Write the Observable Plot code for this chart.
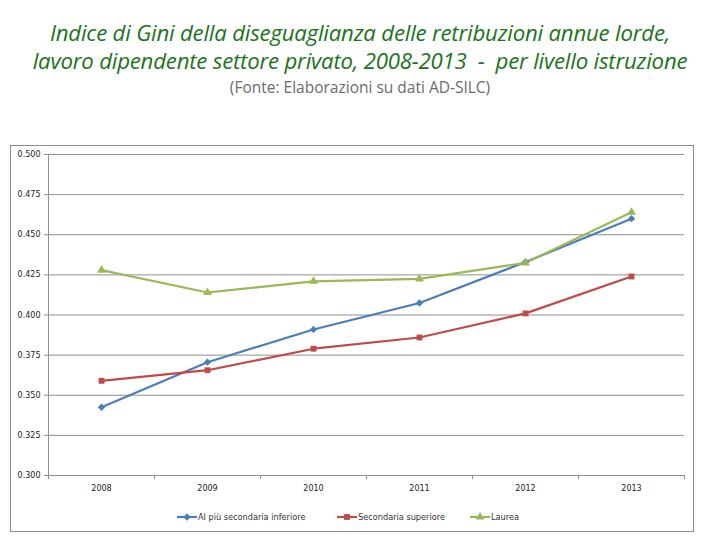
<!DOCTYPE html>
<html>
<head>
<meta charset="utf-8">
<script src="https://cdn.jsdelivr.net/npm/d3@7"></script>
<script src="https://cdn.jsdelivr.net/npm/@observablehq/plot@0.6"></script>
<style>
  html, body { margin: 0; padding: 0; background: #fff; }
  #page { position: relative; width: 720px; height: 540px; overflow: hidden; font-family: "Open Sans", "Noto Sans", sans-serif; }
  .title { position: absolute; left: 0; top: 19px; width: 720px; text-align: center; color: #1c731c; font-style: italic; font-size: 22.2px; line-height: 28px; white-space: nowrap; letter-spacing: -0.2px; }
  .sub { position: absolute; left: 0; width: 720px; text-align: center; color: #6a6a6a; font-size: 15.5px; line-height: 20px; top: 77px; }
  #frame { position: absolute; left: 10px; top: 145px; width: 682px; height: 385px; border: 1px solid #8c8c8c; }
  #chart { position: absolute; left: 0; top: 145px; }
  #legend { position: absolute; top: 511px; left: 0; width: 720px; height: 14px; font-family: "DejaVu Sans", sans-serif; font-size: 8.2px; color: #333; }
  .item { position: absolute; display: flex; align-items: center; white-space: nowrap; }
  .item svg { margin-right: 1px; }
</style>
</head>
<body>
<div id="page">
  <div class="title">Indice di Gini della diseguaglianza delle retribuzioni annue lorde,<br>lavoro dipendente settore privato, 2008-2013&nbsp; -&nbsp; per livello istruzione</div>
  <div class="sub">(Fonte: Elaborazioni su dati AD-SILC)</div>
  <div id="frame"></div>
  <div id="chart"></div>
  <div id="legend"></div>
</div>
<script>
const years = [2008, 2009, 2010, 2011, 2012, 2013];
const seriesNames = ["Al più secondaria inferiore", "Secondaria superiore", "Laurea"];
const alPiuSecondariaInferiore = [0.3425, 0.3706, 0.391, 0.4075, 0.433, 0.460];
const secondariaSuperiore = [0.359, 0.3656, 0.379, 0.386, 0.401, 0.424];
const laurea = [0.428, 0.414, 0.421, 0.4225, 0.4325, 0.464];
const yTicks = [0.300, 0.325, 0.350, 0.375, 0.400, 0.425, 0.450, 0.475, 0.500];
const colors = ["#4a7ebb", "#be4b48", "#98b954"];
const symbols = ["diamond2", "square", "triangle"];

const valuesBySeries = [alPiuSecondariaInferiore, secondariaSuperiore, laurea];
const data = [];
seriesNames.forEach((s, i) => {
  years.forEach((y, j) => data.push({series: s, year: y, value: valuesBySeries[i][j]}));
});
const boundaries = [years[0] - 0.5, ...years.map(y => y + 0.5)];

const chart = Plot.plot({
  width: 720,
  height: 385,
  marginLeft: 48,
  marginRight: 36,
  marginTop: 9,
  marginBottom: 55,
  style: {fontFamily: "DejaVu Sans, sans-serif", fontSize: "8px", color: "#222", background: "transparent"},
  x: {domain: [years[0] - 0.5, years[years.length - 1] + 0.5]},
  y: {domain: [0.3, 0.5]},
  color: {domain: seriesNames, range: colors},
  symbol: {domain: seriesNames, range: symbols},
  marks: [
    Plot.gridY(yTicks, {stroke: "#8f8f8f", strokeOpacity: 1, strokeWidth: 1}),
    Plot.axisY(yTicks, {tickFormat: d3.format(".3f"), tickSize: 4, tickPadding: 4, stroke: "#8f8f8f", label: null, fill: "#222"}),
    Plot.ruleX([years[0] - 0.5], {stroke: "#8f8f8f"}),
    Plot.ruleY([0.3], {stroke: "#8f8f8f"}),
    Plot.axisX(boundaries, {tickSize: 4, tickFormat: () => "", stroke: "#8f8f8f", label: null}),
    Plot.axisX(years, {tickSize: 0, tickPadding: 10, tickFormat: d => String(d), label: null, fill: "#222"}),
    Plot.lineY(data, {x: "year", y: "value", z: "series", stroke: "series", strokeWidth: 2.2}),
    Plot.dot(data, {x: "year", y: "value", fill: "series", symbol: "series", r: 3.3, stroke: "none"})
  ]
});
document.getElementById("chart").appendChild(chart);

// legend
const legend = document.getElementById("legend");
const legendLeft = [177, 337, 470];
seriesNames.forEach((s, i) => {
  const item = document.createElement("div");
  item.className = "item";
  item.style.left = legendLeft[i] + "px";
  const sw = d3.create("svg").attr("width", 20).attr("height", 12);
  sw.append("line").attr("x1", 0).attr("x2", 20).attr("y1", 6).attr("y2", 6)
    .attr("stroke", colors[i]).attr("stroke-width", 2.2);
  const symMap = {diamond2: d3.symbolDiamond2, square: d3.symbolSquare, triangle: d3.symbolTriangle};
  sw.append("path").attr("transform", "translate(10,6)")
    .attr("d", d3.symbol(symMap[symbols[i]], 34)()).attr("fill", colors[i]);
  item.appendChild(sw.node());
  const t = document.createElement("span");
  t.textContent = s;
  item.appendChild(t);
  legend.appendChild(item);
});
</script>
</body>
</html>
